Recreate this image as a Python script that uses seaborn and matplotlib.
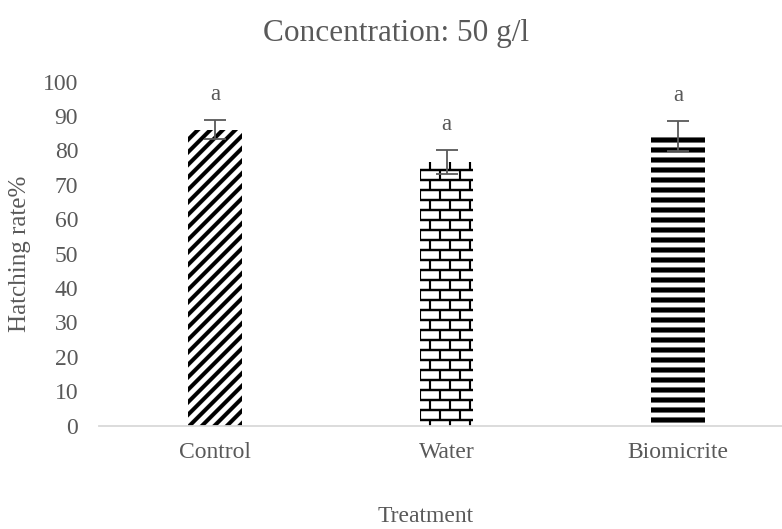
import warnings
warnings.filterwarnings("ignore")
import numpy as np
import matplotlib
matplotlib.use("Agg")
import matplotlib.pyplot as plt
import matplotlib.hatch as mhatch
from matplotlib.path import Path
import seaborn as sns

# ---- data ----
categories = ["Control", "Water", "Biomicrite"]
means = [86.0, 76.6, 84.2]
errors = [2.8, 3.6, 4.3]
letters = ["a", "a", "a"]
y_ticks = [0, 10, 20, 30, 40, 50, 60, 70, 80, 90, 100]
title = "Concentration: 50 g/l"
xlabel = "Treatment"
ylabel = "Hatching rate%"


# ---- custom hatch patterns built from filled polygons ----
def _diag_stripes(n, w):
    polys = []
    for i in range(-n - 2, n + 2):
        c = i / n
        polys.append([(c - 0.2, -0.2), (c + w - 0.2, -0.2),
                      (c + w + 1.2, 1.2), (c + 1.2, 1.2)])
    return polys


def _horiz_stripes(n, t):
    polys = []
    for k in range(-1, n + 2):
        y = k / n
        polys.append([(-0.1, y - t / 2), (1.1, y - t / 2),
                      (1.1, y + t / 2), (-0.1, y + t / 2)])
    return polys


def _bricks(rows, cols, t_h, t_v):
    polys = _horiz_stripes(rows, t_h)
    bw = 1.0 / cols
    for k in range(-1, rows + 1):
        off = 0.0 if k % 2 == 0 else bw / 2
        y0, y1 = k / rows, (k + 1) / rows
        for j in range(-1, cols + 2):
            x = j * bw + off
            polys.append([(x - t_v / 2, y0), (x + t_v / 2, y0),
                          (x + t_v / 2, y1), (x - t_v / 2, y1)])
    return polys


class ShapeHatch(mhatch.HatchPatternBase):
    shapes = {}

    def __init__(self, hatch, density):
        self.polys = []
        for ch, polys in ShapeHatch.shapes.items():
            if hatch and ch in hatch:
                self.polys.extend(polys)
        self.num_vertices = sum(len(p) + 1 for p in self.polys)

    def set_vertices_and_codes(self, vertices, codes):
        i = 0
        for p in self.polys:
            n = len(p)
            vertices[i:i + n] = p
            vertices[i + n] = p[0]
            codes[i] = Path.MOVETO
            codes[i + 1:i + n] = Path.LINETO
            codes[i + n] = Path.CLOSEPOLY
            i += n + 1


ShapeHatch.shapes = {
    "A": _diag_stripes(8, 0.055),
    "B": _bricks(10, 5, 0.022, 0.02),
    "C": _horiz_stripes(10, 0.05),
}
mhatch._hatch_types.append(ShapeHatch)
hatch_chars = ["A", "B", "C"]

# ---- style ----
sns.set_theme(style="white")
plt.rcParams["font.family"] = ["Liberation Serif", "DejaVu Serif"]
plt.rcParams["hatch.linewidth"] = 0.1
plt.rcParams["hatch.color"] = "black"
gray = "#595959"

fig = plt.figure(figsize=(7.82, 5.29), dpi=100)
ax = fig.add_axes([99 / 782, 103.5 / 529, 695 / 782, 344 / 529])

df = {"cat": categories, "val": means}
sns.barplot(x="cat", y="val", data=df, order=categories, color="white",
            width=0.233, linewidth=0, edgecolor="black", saturation=1,
            errorbar=None, ax=ax)

for patch, h in zip(ax.patches, hatch_chars):
    patch._hatch = h
    patch.set_edgecolor("black")
    patch.set_linewidth(0)

xpos = np.arange(len(categories))
ax.errorbar(xpos, means, yerr=errors, fmt="none", ecolor=gray,
            elinewidth=1.3, capsize=8, capthick=1.3, zorder=5)

for x, m, e, lab in zip(xpos, means, errors, letters):
    ax.text(x, m + e + 5.8, lab, ha="center", va="baseline",
            fontsize=16.5, color=gray)

ax.set_ylim(0, 100)
ax.set_xlim(-0.5, len(categories) - 0.5)
ax.set_yticks(y_ticks)
ax.set_yticklabels([str(t) for t in y_ticks])
ax.tick_params(axis="both", length=0, labelsize=17, colors=gray)
ax.tick_params(axis="y", pad=15)
ax.tick_params(axis="x", pad=12)
ax.set_xlabel("")
ax.set_ylabel("")
for s in ["top", "right", "left"]:
    ax.spines[s].set_visible(False)
ax.spines["bottom"].set_color("#d9d9d9")
ax.spines["bottom"].set_linewidth(1.3)
ax.grid(False)

fig.text(396 / 782, 1 - 40.7 / 529, title, ha="center", va="baseline",
         fontsize=22.5, color=gray)
fig.text(426 / 782, 1 - 522 / 529, xlabel, ha="center", va="baseline",
         fontsize=17, color=gray)
fig.text(20.5 / 782, 1 - 253.5 / 529, ylabel, ha="center", va="center",
         rotation=90, fontsize=18, color=gray)

fig.savefig("out.png", dpi=100)
